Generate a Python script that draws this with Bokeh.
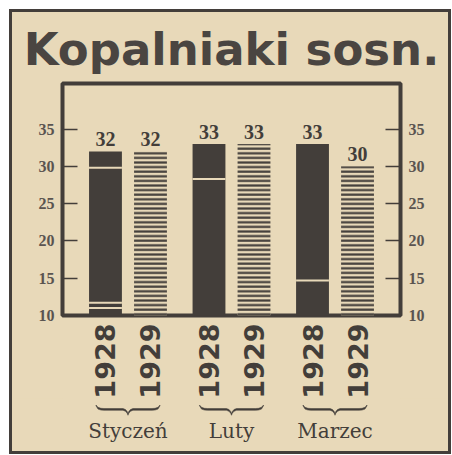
import math
from bokeh.plotting import figure
from bokeh.layouts import column
from bokeh.models import FactorRange, LinearAxis, FixedTicker, Range1d
from bokeh.core.properties import value
from bokeh.embed import file_html
from bokeh.resources import INLINE

# ---- data ----
title_text = "Kopalniaki sosn."
months = ["Styczeń", "Luty", "Marzec"]
years = ["1928", "1929"]
values_1928 = [32, 33, 33]
values_1929 = [32, 33, 30]
y_ticks = [10, 15, 20, 25, 30, 35]
# light seams visible inside the solid 1928 bars
seam_months = ["Styczeń", "Styczeń", "Styczeń", "Luty", "Marzec"]
seam_values = [29.8, 11.7, 11.0, 28.3, 14.7]

# ---- style ----
PAPER = "#e8d9b9"
INK = "#433e3a"
TITLE_INK = "#4a4541"
BORDER = f"3px solid {INK}"
W = 442
H1, H2 = 389, 56
MB_L, MB_R = 50, 54
MB_T1, MB_B1 = 71, 86
MB_B2 = 36
GP = 0.3
RP = 0.455
Y0, Y1 = 10, 41.1

factors = [(m, y) for m in months for y in years]
x_range = FactorRange(*factors, group_padding=GP, factor_padding=0,
                      range_padding=RP, range_padding_units="absolute")

# ================= main chart =================
p = figure(x_range=x_range, y_range=Range1d(Y0, Y1), width=W, height=H1,
           output_backend="svg", toolbar_location=None,
           min_border_left=MB_L, min_border_right=MB_R,
           min_border_top=MB_T1, min_border_bottom=MB_B1,
           background_fill_color=PAPER, border_fill_color=PAPER,
           outline_line_color=INK, outline_line_width=4)
p.styles = {"border-left": BORDER, "border-top": BORDER, "border-right": BORDER,
            "background-color": PAPER}
p.grid.visible = False

p.title.text = title_text
p.title.align = "center"
p.title.offset = 9
p.title.standoff = 16
p.title.text_font = "DejaVu Sans"
p.title.text_font_style = "bold"
p.title.text_font_size = "45px"
p.title.text_color = TITLE_INK

x28 = [(m, "1928") for m in months]
x29 = [(m, "1929") for m in months]
p.vbar(x=x28, top=values_1928, width=0.73, fill_color=INK, line_color=None)
p.vbar(x=x29, top=values_1929, width=0.73, fill_color=PAPER, line_color=None,
       hatch_pattern="horizontal_line", hatch_color=INK,
       hatch_weight=2.2, hatch_scale=4.6)
p.rect(x=[(m, "1928") for m in seam_months], y=seam_values, width=0.73,
       height=2, height_units="screen", fill_color=PAPER, line_color=None)

all_x = [(m, y) for m in months for y in years]
all_v = [v for pair in zip(values_1928, values_1929) for v in pair]
p.text(x=all_x, y=all_v, text=[str(v) for v in all_v], text_align="center",
       text_baseline="bottom", y_offset=-5, text_font=value("Liberation Serif"),
       text_font_style="bold", text_font_size="20px", text_color=INK)

xa = p.xaxis[0]
xa.axis_line_color = None
xa.major_tick_line_color = None
xa.major_tick_in = 0
xa.major_tick_out = 0
xa.separator_line_color = None
xa.major_label_orientation = math.pi / 2
xa.major_label_standoff = 8
xa.major_label_text_font = "DejaVu Sans"
xa.major_label_text_font_style = "bold"
xa.major_label_text_font_size = "27px"
xa.major_label_text_color = INK
xa.group_text_color = None
xa.group_text_font_size = "1px"


def style_y(ax):
    ax.ticker = FixedTicker(ticks=y_ticks)
    ax.axis_line_color = None
    ax.major_tick_in = 15
    ax.major_tick_out = 0
    ax.minor_tick_line_color = None
    ax.major_tick_line_color = INK
    ax.major_tick_line_width = 1.5
    ax.major_label_standoff = 8
    ax.major_label_text_font = "Liberation Serif"
    ax.major_label_text_font_style = "bold"
    ax.major_label_text_font_size = "16px"
    ax.major_label_text_color = "#5a5450"


style_y(p.yaxis[0])
ra = LinearAxis()
style_y(ra)
p.add_layout(ra, "right")

# ================= braces + month names =================
q = figure(x_range=x_range, y_range=Range1d(0, 1), width=W, height=H2, title=None,
           output_backend="svg", toolbar_location=None, y_axis_location=None,
           min_border_left=MB_L, min_border_right=MB_R,
           min_border_top=0, min_border_bottom=MB_B2,
           background_fill_color=None, border_fill_color=PAPER,
           outline_line_color=None)
q.styles = {"border-left": BORDER, "border-right": BORDER, "border-bottom": BORDER,
            "background-color": PAPER}
q.grid.visible = False

frame_w = W - MB_L - MB_R
frame_h2 = H2 - MB_B2
ppx = frame_w / (len(factors) + 2 * GP + 2 * RP)
base = 10  # brace baseline, px below top of this strip
shape = [(-32, -3.5), (-30, -1.2), (-27, -0.2), (-24, 0), (-5, 0), (-2.5, 1),
         (-0.8, 3), (0, 5), (0.8, 3), (2.5, 1), (5, 0), (24, 0), (27, -0.2),
         (30, -1.2), (32, -3.5)]
thick = [0.8] + [1.8] * (len(shape) - 2) + [0.8]
bx, by = [], []
for g in range(len(months)):
    c = g * (len(years) + GP) + len(years) / 2
    top = [(c + dx / ppx, 1 - (base + dy) / frame_h2) for dx, dy in shape]
    bot = [(c + dx / ppx, 1 - (base + dy + t) / frame_h2)
           for (dx, dy), t in zip(reversed(shape), reversed(thick))]
    pts = top + bot
    bx.append([pt[0] for pt in pts])
    by.append([pt[1] for pt in pts])
q.patches(xs=bx, ys=by, fill_color=INK, line_color=INK, line_width=0.5)

xb = q.xaxis[0]
xb.axis_line_color = None
xb.major_tick_line_color = None
xb.major_tick_in = 0
xb.major_tick_out = 0
xb.separator_line_color = None
xb.major_label_standoff = 0
xb.major_label_text_color = None
xb.major_label_text_font_size = "1px"
xb.group_text_font = "DejaVu Serif"
xb.group_text_font_style = "normal"
xb.group_text_font_size = "20px"
xb.group_text_color = INK

layout = column(p, q, spacing=0, margin=(9, 0, 0, 9),
                styles={"background-color": PAPER})
open("out.html", "w").write(file_html(layout, INLINE))
